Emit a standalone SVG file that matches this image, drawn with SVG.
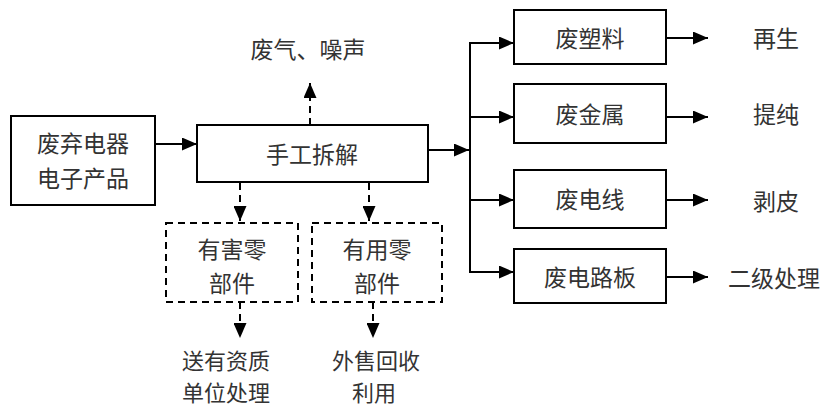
<svg xmlns="http://www.w3.org/2000/svg" width="823" height="407" viewBox="0 0 823 407">
<style>
.box{fill:#fff;stroke:#000;stroke-width:2}
.dbox{fill:#fff;stroke:#000;stroke-width:2;stroke-dasharray:7 5}
.t{font-family:"Noto Sans CJK SC","Noto Sans",sans-serif;font-size:23px;fill:#333;text-anchor:middle;dominant-baseline:central}
.s{font-size:22px}
.ln{fill:none;stroke:#000;stroke-width:2}
.dl{fill:none;stroke:#000;stroke-width:2;stroke-dasharray:7 5}
</style>
<defs>
<marker id="ah" markerWidth="15" markerHeight="13" refX="15" refY="6.5" orient="auto" markerUnits="userSpaceOnUse"><path d="M0,0 L15,6.5 L0,13 Z" fill="#000"/></marker>
</defs>
<rect width="823" height="407" fill="#fff"/>
<g id="connectors">
<line class="ln" x1="155" y1="144" x2="197" y2="144" marker-end="url(#ah)"/>
<line class="ln" x1="428" y1="150" x2="469" y2="150" marker-end="url(#ah)"/>
<line class="ln" x1="470" y1="42" x2="470" y2="273"/>
<line class="ln" x1="469" y1="43" x2="514" y2="43" marker-end="url(#ah)"/>
<line class="ln" x1="469" y1="117" x2="514" y2="117" marker-end="url(#ah)"/>
<line class="ln" x1="469" y1="200" x2="514" y2="200" marker-end="url(#ah)"/>
<line class="ln" x1="469" y1="272" x2="514" y2="272" marker-end="url(#ah)"/>
<line class="ln" x1="666" y1="38" x2="708" y2="38" marker-end="url(#ah)"/>
<line class="ln" x1="666" y1="117" x2="708" y2="117" marker-end="url(#ah)"/>
<line class="ln" x1="666" y1="200" x2="708" y2="200" marker-end="url(#ah)"/>
<line class="ln" x1="666" y1="277" x2="708" y2="277" marker-end="url(#ah)"/>
<line class="dl" x1="310" y1="125" x2="310" y2="83" marker-end="url(#ah)"/>
<line class="dl" x1="240" y1="183" x2="240" y2="221" marker-end="url(#ah)"/>
<line class="dl" x1="369" y1="183" x2="369" y2="221" marker-end="url(#ah)"/>
<line class="dl" x1="240" y1="302" x2="240" y2="338" marker-end="url(#ah)"/>
<line class="dl" x1="373" y1="302" x2="373" y2="338" marker-end="url(#ah)"/>
</g>
<g id="n-input"><rect class="box" x="11" y="116" width="144" height="89"/><text class="t" x="83" y="142">废弃电器</text><text class="t" x="83" y="177">电子产品</text></g>
<g id="n-dismantle"><rect class="box" x="197" y="125" width="231" height="57"/><text class="t" x="312" y="153">手工拆解</text></g>
<g id="n-gas"><text class="t" x="308" y="48">废气、噪声</text></g>
<g id="n-plastic"><rect class="box" x="514" y="10" width="152" height="54"/><text class="t" x="590" y="37">废塑料</text></g>
<g id="n-metal"><rect class="box" x="514" y="84" width="152" height="59"/><text class="t" x="590" y="113">废金属</text></g>
<g id="n-wire"><rect class="box" x="514" y="170" width="152" height="58"/><text class="t" x="590" y="198">废电线</text></g>
<g id="n-pcb"><rect class="box" x="514" y="249" width="152" height="54"/><text class="t" x="590" y="276">废电路板</text></g>
<g id="n-regen"><text class="t" x="776" y="37">再生</text></g>
<g id="n-purify"><text class="t" x="776" y="113">提纯</text></g>
<g id="n-strip"><text class="t" x="776" y="200">剥皮</text></g>
<g id="n-secondary"><text class="t" x="774" y="277">二级处理</text></g>
<g id="n-hazard"><rect class="dbox" x="166" y="223" width="132" height="79"/><text class="t" x="232" y="248">有害零</text><text class="t" x="232" y="282">部件</text></g>
<g id="n-useful"><rect class="dbox" x="312" y="223" width="130" height="79"/><text class="t" x="377" y="248">有用零</text><text class="t" x="377" y="282">部件</text></g>
<g id="n-qualified"><text class="t s" x="226" y="359">送有资质</text><text class="t s" x="226" y="391">单位处理</text></g>
<g id="n-sell"><text class="t s" x="376" y="359">外售回收</text><text class="t s" x="374" y="391">利用</text></g>
</svg>
